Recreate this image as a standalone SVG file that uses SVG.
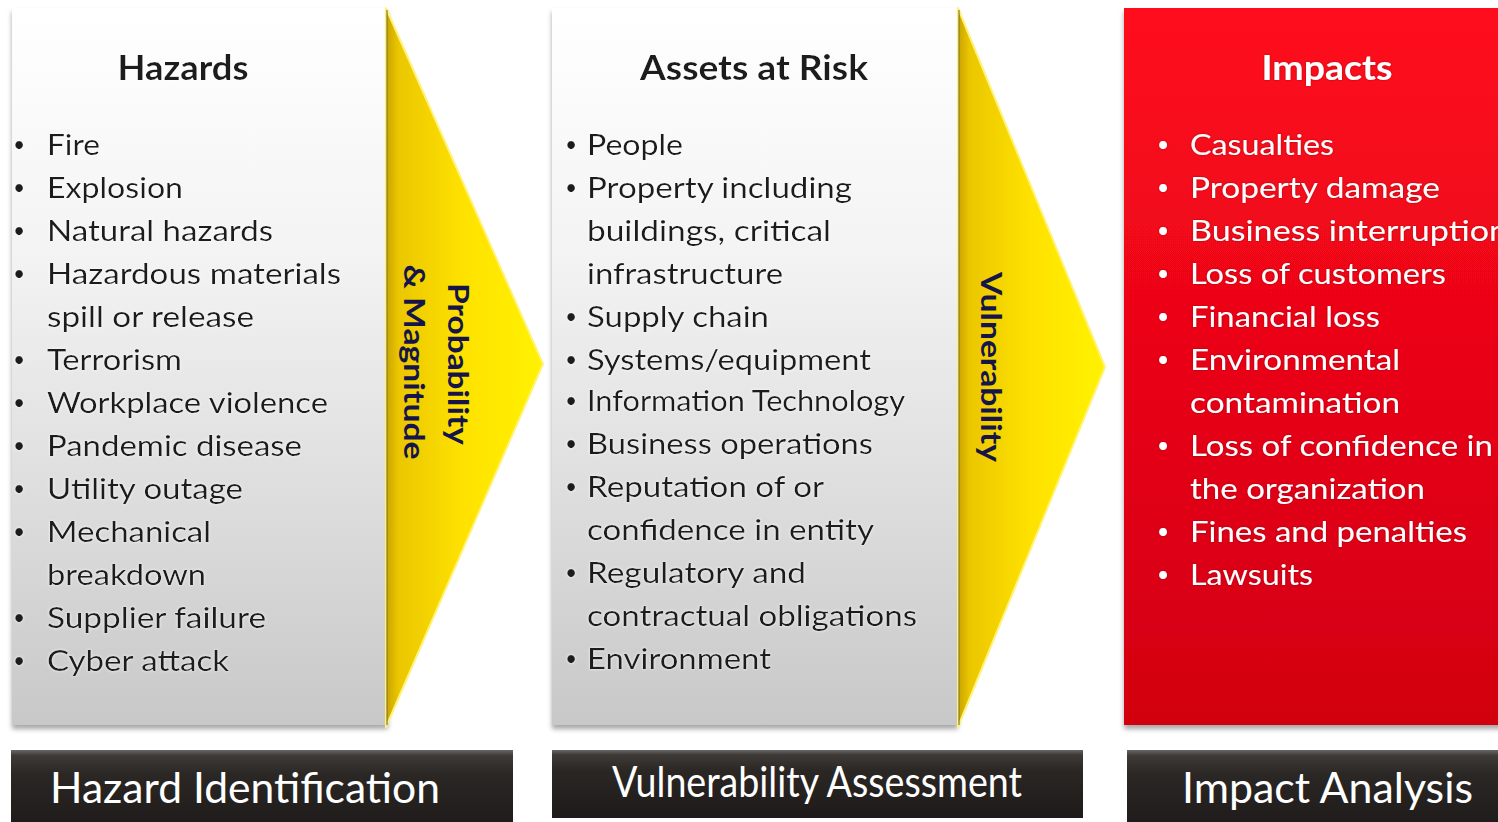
<svg xmlns="http://www.w3.org/2000/svg" width="1498" height="822" viewBox="0 0 1498 822">
<defs>
<linearGradient id="grayGrad" x1="0" y1="0" x2="0" y2="1">
<stop offset="0" stop-color="#ffffff"/>
<stop offset="0.35" stop-color="#f3f3f3"/>
<stop offset="1" stop-color="#c8c8c8"/>
</linearGradient>
<linearGradient id="yellowGrad" x1="0" y1="0" x2="1" y2="0">
<stop offset="0" stop-color="#c9a300"/>
<stop offset="0.08" stop-color="#ebc700"/>
<stop offset="0.5" stop-color="#ffe200"/>
<stop offset="1" stop-color="#fff200"/>
</linearGradient>
<linearGradient id="redGrad" x1="0" y1="0" x2="0" y2="1">
<stop offset="0" stop-color="#ff0a1e"/>
<stop offset="1" stop-color="#d20010"/>
</linearGradient>
<linearGradient id="barGrad" x1="0" y1="0" x2="0" y2="1">
<stop offset="0" stop-color="#6a6663"/>
<stop offset="0.07" stop-color="#3e3a37"/>
<stop offset="0.3" stop-color="#2b2725"/>
<stop offset="1" stop-color="#1d1a19"/>
</linearGradient>
<filter id="shadow" x="-5%" y="-5%" width="110%" height="110%">
<feDropShadow dx="0" dy="4" stdDeviation="2.5" flood-color="#000" flood-opacity="0.35"/>
</filter>
<filter id="glowW" x="-5%" y="-20%" width="110%" height="140%">
<feGaussianBlur in="SourceAlpha" stdDeviation="1.5" result="b"/>
<feFlood flood-color="#ffffff" flood-opacity="0.9"/>
<feComposite in2="b" operator="in" result="g"/>
<feMerge><feMergeNode in="g"/><feMergeNode in="SourceGraphic"/></feMerge>
</filter>
<filter id="glowD" x="-5%" y="-20%" width="110%" height="140%">
<feGaussianBlur in="SourceAlpha" stdDeviation="1.2" result="b"/>
<feFlood flood-color="#7a0008" flood-opacity="0.6"/>
<feComposite in2="b" operator="in" result="g"/>
<feMerge><feMergeNode in="g"/><feMergeNode in="SourceGraphic"/></feMerge>
</filter>
<style>
.t{font-family:Lato,"Liberation Sans",sans-serif;}
.title{font-size:34px;font-weight:bold;text-anchor:middle;}
.item{font-size:29px;}
.bul{font-size:21px;}
.dark{fill:#1a1a1a;}
.white{fill:#ffffff;}
.rot{font-size:28px;font-weight:bold;fill:#15154a;text-anchor:middle;}
.bar{font-size:42px;fill:#ffffff;}
.panel{filter:url(#shadow);}
</style>
</defs>
<rect width="1498" height="822" fill="#ffffff"/>

<g id="node-hazards">
<rect class="panel" x="12" y="8" width="376" height="717" fill="url(#grayGrad)"/>
<g class="t dark" filter="url(#glowW)">
<text class="title t" x="183" y="80" textLength="131" lengthAdjust="spacingAndGlyphs">Hazards</text>
<g class="bul">
<text x="13" y="152">•</text><text x="13" y="195">•</text><text x="13" y="238">•</text><text x="13" y="281">•</text>
<text x="13" y="367">•</text><text x="13" y="410">•</text><text x="13" y="453">•</text><text x="13" y="496">•</text>
<text x="13" y="539">•</text><text x="13" y="625">•</text><text x="13" y="668">•</text>
</g>
<g class="item">
<text x="47" y="155" textLength="53" lengthAdjust="spacingAndGlyphs">Fire</text>
<text x="47" y="198" textLength="136" lengthAdjust="spacingAndGlyphs">Explosion</text>
<text x="47" y="241" textLength="226" lengthAdjust="spacingAndGlyphs">Natural hazards</text>
<text x="47" y="284" textLength="294" lengthAdjust="spacingAndGlyphs">Hazardous materials</text>
<text x="47" y="327" textLength="207" lengthAdjust="spacingAndGlyphs">spill or release</text>
<text x="47" y="370" textLength="135" lengthAdjust="spacingAndGlyphs">Terrorism</text>
<text x="47" y="413" textLength="281" lengthAdjust="spacingAndGlyphs">Workplace violence</text>
<text x="47" y="456" textLength="255" lengthAdjust="spacingAndGlyphs">Pandemic disease</text>
<text x="47" y="499" textLength="196" lengthAdjust="spacingAndGlyphs">Utility outage</text>
<text x="47" y="542" textLength="164" lengthAdjust="spacingAndGlyphs">Mechanical</text>
<text x="47" y="585" textLength="159" lengthAdjust="spacingAndGlyphs">breakdown</text>
<text x="47" y="628" textLength="219" lengthAdjust="spacingAndGlyphs">Supplier failure</text>
<text x="47" y="671" textLength="182" lengthAdjust="spacingAndGlyphs">Cyber attack</text>
</g>
</g>
</g>

<g id="node-assets">
<rect class="panel" x="552" y="8" width="406" height="717" fill="url(#grayGrad)"/>
<g class="t dark" filter="url(#glowW)">
<text class="title t" x="754" y="80" textLength="228" lengthAdjust="spacingAndGlyphs">Assets at Risk</text>
<g class="bul">
<text x="565" y="152">•</text><text x="565" y="195">•</text><text x="565" y="324">•</text><text x="565" y="367">•</text>
<text x="565" y="408">•</text><text x="565" y="451">•</text><text x="565" y="494">•</text><text x="565" y="580">•</text>
<text x="565" y="666">•</text>
</g>
<g class="item">
<text x="587" y="155" textLength="96" lengthAdjust="spacingAndGlyphs">People</text>
<text x="587" y="198" textLength="265" lengthAdjust="spacingAndGlyphs">Property including</text>
<text x="587" y="241" textLength="244" lengthAdjust="spacingAndGlyphs">buildings, critical</text>
<text x="587" y="284" textLength="196" lengthAdjust="spacingAndGlyphs">infrastructure</text>
<text x="587" y="327" textLength="182" lengthAdjust="spacingAndGlyphs">Supply chain</text>
<text x="587" y="370" textLength="284" lengthAdjust="spacingAndGlyphs">Systems/equipment</text>
<text x="587" y="411" textLength="318" lengthAdjust="spacingAndGlyphs">Information Technology</text>
<text x="587" y="454" textLength="286" lengthAdjust="spacingAndGlyphs">Business operations</text>
<text x="587" y="497" textLength="237" lengthAdjust="spacingAndGlyphs">Reputation of or</text>
<text x="587" y="540" textLength="287" lengthAdjust="spacingAndGlyphs">confidence in entity</text>
<text x="587" y="583" textLength="219" lengthAdjust="spacingAndGlyphs">Regulatory and</text>
<text x="587" y="626" textLength="330" lengthAdjust="spacingAndGlyphs">contractual obligations</text>
<text x="587" y="669" textLength="184" lengthAdjust="spacingAndGlyphs">Environment</text>
</g>
</g>
</g>

<g id="node-impacts">
<rect class="panel" x="1124" y="8" width="380" height="717" fill="url(#redGrad)"/>
<g class="t white" filter="url(#glowD)">
<text class="title t" x="1327" y="80" textLength="131" lengthAdjust="spacingAndGlyphs">Impacts</text>
<g class="bul">
<text x="1157" y="152">•</text><text x="1157" y="195">•</text><text x="1157" y="238">•</text><text x="1157" y="281">•</text>
<text x="1157" y="324">•</text><text x="1157" y="367">•</text><text x="1157" y="453">•</text><text x="1157" y="539">•</text>
<text x="1157" y="582">•</text>
</g>
<g class="item">
<text x="1190" y="155" textLength="144" lengthAdjust="spacingAndGlyphs">Casualties</text>
<text x="1190" y="198" textLength="250" lengthAdjust="spacingAndGlyphs">Property damage</text>
<text x="1190" y="241" textLength="318" lengthAdjust="spacingAndGlyphs">Business interruption</text>
<text x="1190" y="284" textLength="256" lengthAdjust="spacingAndGlyphs">Loss of customers</text>
<text x="1190" y="327" textLength="190" lengthAdjust="spacingAndGlyphs">Financial loss</text>
<text x="1190" y="370" textLength="210" lengthAdjust="spacingAndGlyphs">Environmental</text>
<text x="1190" y="413" textLength="210" lengthAdjust="spacingAndGlyphs">contamination</text>
<text x="1190" y="456" textLength="303" lengthAdjust="spacingAndGlyphs">Loss of confidence in</text>
<text x="1190" y="499" textLength="235" lengthAdjust="spacingAndGlyphs">the organization</text>
<text x="1190" y="542" textLength="277" lengthAdjust="spacingAndGlyphs">Fines and penalties</text>
<text x="1190" y="585" textLength="123" lengthAdjust="spacingAndGlyphs">Lawsuits</text>
</g>
</g>
</g>

<g id="connectors">
<g id="arrow-probability">
<polygon points="386,8 543,364 386,727" fill="url(#yellowGrad)" stroke="#fff27a" stroke-width="2" stroke-linejoin="round"/>
<line x1="387" y1="10" x2="387" y2="725" stroke="#8a7a30" stroke-width="2" opacity="0.6"/>
<g class="t rot">
<text transform="translate(448,364) rotate(90)" x="0" y="0" textLength="162" lengthAdjust="spacingAndGlyphs">Probability</text>
<text transform="translate(404,362) rotate(90)" x="0" y="0" textLength="195" lengthAdjust="spacingAndGlyphs">&amp; Magnitude</text>
</g>
</g>
<g id="arrow-vulnerability">
<polygon points="958,8 1105,367 958,727" fill="url(#yellowGrad)" stroke="#fff27a" stroke-width="2" stroke-linejoin="round"/>
<line x1="959" y1="10" x2="959" y2="725" stroke="#8a7a30" stroke-width="2" opacity="0.6"/>
<g class="t rot">
<text transform="translate(981,367) rotate(90)" x="0" y="0" textLength="190" lengthAdjust="spacingAndGlyphs">Vulnerability</text>
</g>
</g>
</g>

<g id="node-hazard-identification">
<rect x="11" y="750" width="502" height="80" fill="url(#barGrad)"/>
<text class="t bar" x="50" y="803" textLength="390" lengthAdjust="spacingAndGlyphs">Hazard Identification</text>
</g>
<g id="node-vulnerability-assessment">
<rect x="552" y="750" width="531" height="68" fill="url(#barGrad)"/>
<text class="t bar" x="612" y="797" font-size="38" textLength="410" lengthAdjust="spacingAndGlyphs">Vulnerability Assessment</text>
</g>
<g id="node-impact-analysis">
<rect x="1127" y="750" width="380" height="80" fill="url(#barGrad)"/>
<text class="t bar" x="1182" y="803" textLength="291" lengthAdjust="spacingAndGlyphs">Impact Analysis</text>
</g>
</svg>
